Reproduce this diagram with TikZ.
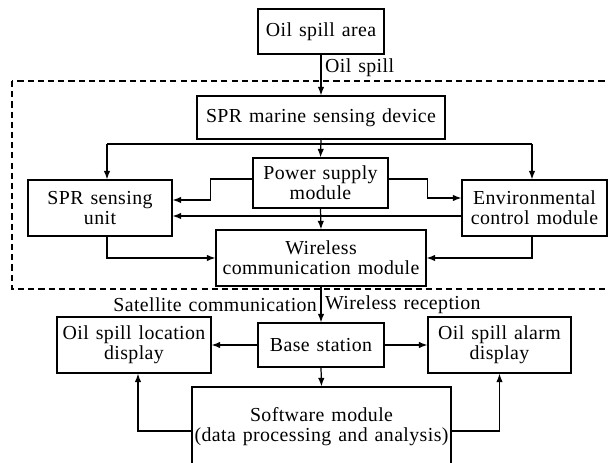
\documentclass[tikz,border=0pt]{standalone}
\usepackage{fontspec}
\setmainfont{Liberation Serif}[LetterSpace=2, WordSpace=1.3]
\usetikzlibrary{arrows.meta}
\begin{document}
\begin{tikzpicture}[>={Latex[length=1.7mm,width=1.3mm]}, line width=0.7pt,
		caja/.style={draw, align=center, inner sep=0pt, font=\fontsize{11.3}{11.4}\selectfont},
		etiqueta/.style={inner sep=2pt, font=\fontsize{11.3}{11.4}\selectfont}]
		\useasboundingbox (0,0) rectangle (12.16,9.24);
		% Zona punteada
			\draw[dash pattern=on 3.5pt off 2.3pt] (0.24,7.62) rectangle (12.3,3.46);
		% Cajas
			\node[caja, minimum width=2.52cm, minimum height=0.9cm] (area) at (6.42,8.61) {Oil spill area};
			\node[caja, minimum width=4.96cm, minimum height=0.86cm] (device) at (6.42,6.89) {SPR marine sensing device};
			\node[caja, minimum width=2.7cm, minimum height=1.0cm] (power) at (6.41,5.58) {Power supply\\module};
			\node[caja, minimum width=2.88cm, minimum height=1.12cm] (unit) at (2.0,5.08) {SPR sensing\\unit};
			\node[caja, minimum width=2.9cm, minimum height=1.12cm] (env) at (10.69,5.08) {Environmental\\control module};
			\node[caja, minimum width=4.2cm, minimum height=1.12cm] (wireless) at (6.42,4.08) {Wireless\\communication module};
			\node[caja, minimum width=2.52cm, minimum height=0.88cm] (base) at (6.42,2.34) {Base station};
			\node[caja, minimum width=3.08cm, minimum height=1.12cm] (location) at (2.68,2.34) {Oil spill location\\display};
			\node[caja, minimum width=2.86cm, minimum height=1.12cm] (alarm) at (9.99,2.34) {Oil spill alarm\\display};
			\node[caja, minimum width=5.18cm, minimum height=1.6cm] (software) at (6.43,0.70) {Software module\\(data processing and analysis)};
		% Conexiones
			% Entrada
				\draw[->] (area.south) -- (device.north) node[etiqueta, pos=0.33, right] {Oil spill};
				\draw[->] (device.south) -- (power.north);
			% Reparto
				\coordinate (distL) at (2.14,6.36);
				\coordinate (distR) at (10.64,6.36);
				\draw (distL) -- (distR);
				\draw[->] (distL) -- (distL |- unit.north);
				\draw[->] (distR) -- (distR |- env.north);
			% Alimentacion
				\draw[->] ([yshift=0.8mm]power.west) -- ++(-0.84,0) |- ([yshift=1.6mm]unit.east);
				\draw[->] ([yshift=0.8mm]power.east) -- ++(0.78,0) |- ([yshift=2mm]env.west);
				\draw[->] ([yshift=-1.6mm]env.west) -- ([yshift=-1.6mm]unit.east);
				\draw[->] (power.south) -- (wireless.north);
			% Hacia el modulo inalambrico
				\draw[->] ([xshift=1.4mm]unit.south) |- (wireless.west);
				\draw[->] ([xshift=-0.5mm]env.south) |- (wireless.east);
			% Estacion base
				\draw[->] (wireless.south) -- (base.north)
					node[etiqueta, midway, left] {Satellite communication}
					node[etiqueta, midway, right] {Wireless reception};
				\draw[->] (base.west) -- (location.east);
				\draw[->] (base.east) -- (alarm.west);
				\draw[->] (base.south) -- (software.north);
			% Software
				\draw[->] ([yshift=-0.8mm]software.west) -| ([xshift=0.8mm]location.south);
				\draw[->] ([yshift=-0.8mm]software.east) -| (alarm.south);
	\end{tikzpicture}
\end{document}
